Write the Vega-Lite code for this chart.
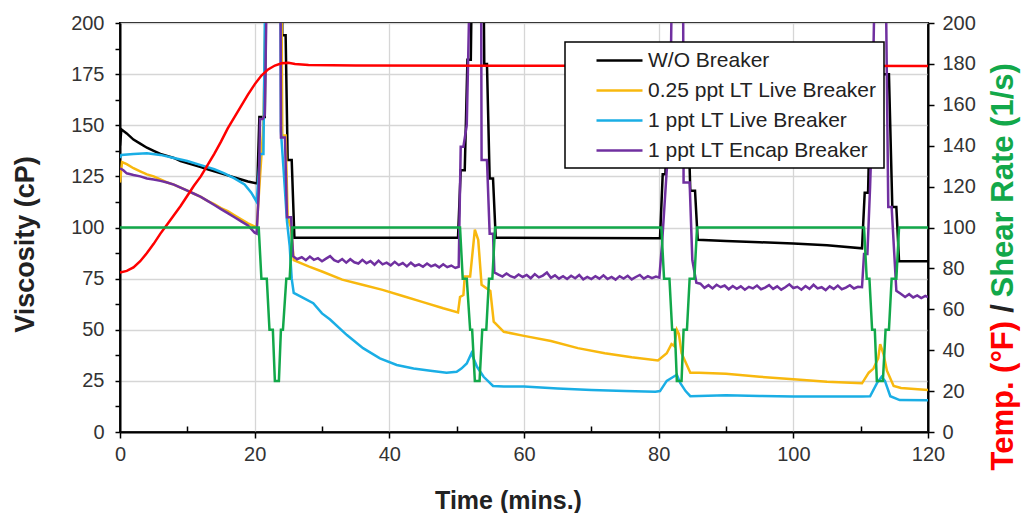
{
  "$schema": "https://vega.github.io/schema/vega-lite/v6.json",
  "width": 808,
  "height": 409,
  "autosize": "none",
  "padding": {"left": 120, "top": 23, "right": 99, "bottom": 81},
  "background": "white",
  "config": {
    "view": {"stroke": "black", "strokeWidth": 2},
    "font": "Liberation Sans",
    "axis": {"labelFont": "Liberation Sans", "titleFont": "Liberation Sans", "labelColor": "#333", "titleColor": "#222", "domainColor": "black", "domainWidth": 2, "tickColor": "black", "tickWidth": 1.5, "gridColor": "#d6d6d6", "gridWidth": 1.3, "labelFontSize": 20},
    "legend": {"strokeWidth": 1.5}
  },
  "datasets": {
    "visc": [
      {"t":0,"v":140,"s":"W/O Breaker"},{"t":0.2,"v":148,"s":"W/O Breaker"},{"t":1,"v":146,"s":"W/O Breaker"},{"t":2,"v":143,"s":"W/O Breaker"},{"t":3,"v":141,"s":"W/O Breaker"},{"t":4,"v":139,"s":"W/O Breaker"},{"t":5,"v":137.5,"s":"W/O Breaker"},{"t":6,"v":136,"s":"W/O Breaker"},{"t":7,"v":135,"s":"W/O Breaker"},{"t":8,"v":134,"s":"W/O Breaker"},{"t":9,"v":132.5,"s":"W/O Breaker"},{"t":10,"v":131.5,"s":"W/O Breaker"},{"t":11,"v":130.5,"s":"W/O Breaker"},{"t":12,"v":129.5,"s":"W/O Breaker"},{"t":13,"v":128.5,"s":"W/O Breaker"},{"t":14,"v":127.5,"s":"W/O Breaker"},{"t":15,"v":126.5,"s":"W/O Breaker"},{"t":16,"v":125.5,"s":"W/O Breaker"},{"t":17,"v":124.5,"s":"W/O Breaker"},{"t":18,"v":123.5,"s":"W/O Breaker"},{"t":19,"v":122.5,"s":"W/O Breaker"},{"t":20.4,"v":121.5,"s":"W/O Breaker"},{"t":20.7,"v":154,"s":"W/O Breaker"},{"t":21.5,"v":154,"s":"W/O Breaker"},{"t":21.8,"v":260,"s":"W/O Breaker"},{"t":24.0,"v":260,"s":"W/O Breaker"},{"t":24.1,"v":194,"s":"W/O Breaker"},{"t":24.6,"v":194,"s":"W/O Breaker"},{"t":24.9,"v":133,"s":"W/O Breaker"},{"t":25.5,"v":133,"s":"W/O Breaker"},{"t":25.9,"v":95,"s":"W/O Breaker"},{"t":50.2,"v":95,"s":"W/O Breaker"},{"t":50.6,"v":128,"s":"W/O Breaker"},{"t":51.2,"v":128,"s":"W/O Breaker"},{"t":51.6,"v":182,"s":"W/O Breaker"},{"t":52.1,"v":182,"s":"W/O Breaker"},{"t":52.4,"v":260,"s":"W/O Breaker"},{"t":53.9,"v":260,"s":"W/O Breaker"},{"t":54.1,"v":180,"s":"W/O Breaker"},{"t":54.5,"v":180,"s":"W/O Breaker"},{"t":54.9,"v":124,"s":"W/O Breaker"},{"t":55.4,"v":124,"s":"W/O Breaker"},{"t":55.8,"v":95,"s":"W/O Breaker"},{"t":80.2,"v":94.8,"s":"W/O Breaker"},{"t":80.6,"v":126,"s":"W/O Breaker"},{"t":81.0,"v":126,"s":"W/O Breaker"},{"t":81.4,"v":175,"s":"W/O Breaker"},{"t":84.2,"v":175,"s":"W/O Breaker"},{"t":84.7,"v":118,"s":"W/O Breaker"},{"t":85.4,"v":118,"s":"W/O Breaker"},{"t":85.8,"v":94,"s":"W/O Breaker"},{"t":90,"v":93.4,"s":"W/O Breaker"},{"t":95,"v":92.8,"s":"W/O Breaker"},{"t":100,"v":92.2,"s":"W/O Breaker"},{"t":105,"v":91.3,"s":"W/O Breaker"},{"t":110.2,"v":89.8,"s":"W/O Breaker"},{"t":110.6,"v":117,"s":"W/O Breaker"},{"t":111.1,"v":117,"s":"W/O Breaker"},{"t":111.5,"v":175,"s":"W/O Breaker"},{"t":114.2,"v":175,"s":"W/O Breaker"},{"t":114.7,"v":110,"s":"W/O Breaker"},{"t":115.3,"v":110,"s":"W/O Breaker"},{"t":115.7,"v":83.5,"s":"W/O Breaker"},{"t":120,"v":83.5,"s":"W/O Breaker"},

      {"t":0,"v":122,"s":"0.25 ppt LT Live Breaker"},{"t":0.3,"v":132,"s":"0.25 ppt LT Live Breaker"},{"t":1,"v":131,"s":"0.25 ppt LT Live Breaker"},{"t":2,"v":129,"s":"0.25 ppt LT Live Breaker"},{"t":3,"v":127.5,"s":"0.25 ppt LT Live Breaker"},{"t":4,"v":126,"s":"0.25 ppt LT Live Breaker"},{"t":5,"v":125,"s":"0.25 ppt LT Live Breaker"},{"t":6,"v":123.5,"s":"0.25 ppt LT Live Breaker"},{"t":7,"v":122,"s":"0.25 ppt LT Live Breaker"},{"t":8,"v":121,"s":"0.25 ppt LT Live Breaker"},{"t":9,"v":119.5,"s":"0.25 ppt LT Live Breaker"},{"t":10,"v":118,"s":"0.25 ppt LT Live Breaker"},{"t":11,"v":116.5,"s":"0.25 ppt LT Live Breaker"},{"t":12,"v":115,"s":"0.25 ppt LT Live Breaker"},{"t":13,"v":113,"s":"0.25 ppt LT Live Breaker"},{"t":14,"v":111.5,"s":"0.25 ppt LT Live Breaker"},{"t":15,"v":109.5,"s":"0.25 ppt LT Live Breaker"},{"t":16,"v":108,"s":"0.25 ppt LT Live Breaker"},{"t":17,"v":106,"s":"0.25 ppt LT Live Breaker"},{"t":18,"v":104,"s":"0.25 ppt LT Live Breaker"},{"t":19,"v":102,"s":"0.25 ppt LT Live Breaker"},{"t":20.3,"v":100,"s":"0.25 ppt LT Live Breaker"},{"t":20.7,"v":120,"s":"0.25 ppt LT Live Breaker"},{"t":21.3,"v":150,"s":"0.25 ppt LT Live Breaker"},{"t":21.9,"v":260,"s":"0.25 ppt LT Live Breaker"},{"t":23.9,"v":260,"s":"0.25 ppt LT Live Breaker"},{"t":24.1,"v":145,"s":"0.25 ppt LT Live Breaker"},{"t":24.6,"v":145,"s":"0.25 ppt LT Live Breaker"},{"t":24.9,"v":105,"s":"0.25 ppt LT Live Breaker"},{"t":25.4,"v":100,"s":"0.25 ppt LT Live Breaker"},{"t":25.8,"v":84,"s":"0.25 ppt LT Live Breaker"},{"t":28,"v":81,"s":"0.25 ppt LT Live Breaker"},{"t":30,"v":78.5,"s":"0.25 ppt LT Live Breaker"},{"t":33,"v":74.5,"s":"0.25 ppt LT Live Breaker"},{"t":36,"v":72,"s":"0.25 ppt LT Live Breaker"},{"t":39,"v":69.5,"s":"0.25 ppt LT Live Breaker"},{"t":42,"v":66.5,"s":"0.25 ppt LT Live Breaker"},{"t":45,"v":63.5,"s":"0.25 ppt LT Live Breaker"},{"t":48,"v":60.5,"s":"0.25 ppt LT Live Breaker"},{"t":50.2,"v":58.5,"s":"0.25 ppt LT Live Breaker"},{"t":50.5,"v":66,"s":"0.25 ppt LT Live Breaker"},{"t":51.0,"v":67,"s":"0.25 ppt LT Live Breaker"},{"t":51.2,"v":76,"s":"0.25 ppt LT Live Breaker"},{"t":52.0,"v":76,"s":"0.25 ppt LT Live Breaker"},{"t":52.7,"v":99,"s":"0.25 ppt LT Live Breaker"},{"t":53.2,"v":94,"s":"0.25 ppt LT Live Breaker"},{"t":53.7,"v":72,"s":"0.25 ppt LT Live Breaker"},{"t":55.0,"v":69,"s":"0.25 ppt LT Live Breaker"},{"t":55.5,"v":54,"s":"0.25 ppt LT Live Breaker"},{"t":57,"v":49,"s":"0.25 ppt LT Live Breaker"},{"t":60,"v":47,"s":"0.25 ppt LT Live Breaker"},{"t":64,"v":44.5,"s":"0.25 ppt LT Live Breaker"},{"t":68,"v":41,"s":"0.25 ppt LT Live Breaker"},{"t":72,"v":38.5,"s":"0.25 ppt LT Live Breaker"},{"t":76,"v":36.5,"s":"0.25 ppt LT Live Breaker"},{"t":79.9,"v":35,"s":"0.25 ppt LT Live Breaker"},{"t":81.2,"v":38.5,"s":"0.25 ppt LT Live Breaker"},{"t":81.9,"v":43,"s":"0.25 ppt LT Live Breaker"},{"t":82.3,"v":42,"s":"0.25 ppt LT Live Breaker"},{"t":82.7,"v":50,"s":"0.25 ppt LT Live Breaker"},{"t":83.0,"v":48,"s":"0.25 ppt LT Live Breaker"},{"t":83.4,"v":38.5,"s":"0.25 ppt LT Live Breaker"},{"t":84.7,"v":29,"s":"0.25 ppt LT Live Breaker"},{"t":86,"v":29,"s":"0.25 ppt LT Live Breaker"},{"t":90,"v":28.5,"s":"0.25 ppt LT Live Breaker"},{"t":95,"v":27,"s":"0.25 ppt LT Live Breaker"},{"t":100,"v":25.8,"s":"0.25 ppt LT Live Breaker"},{"t":105,"v":24.6,"s":"0.25 ppt LT Live Breaker"},{"t":110.2,"v":23.8,"s":"0.25 ppt LT Live Breaker"},{"t":111.2,"v":29,"s":"0.25 ppt LT Live Breaker"},{"t":111.9,"v":31,"s":"0.25 ppt LT Live Breaker"},{"t":112.6,"v":36,"s":"0.25 ppt LT Live Breaker"},{"t":112.9,"v":43,"s":"0.25 ppt LT Live Breaker"},{"t":113.4,"v":38,"s":"0.25 ppt LT Live Breaker"},{"t":113.9,"v":30,"s":"0.25 ppt LT Live Breaker"},{"t":114.9,"v":22.5,"s":"0.25 ppt LT Live Breaker"},{"t":116,"v":21.5,"s":"0.25 ppt LT Live Breaker"},{"t":120,"v":20.5,"s":"0.25 ppt LT Live Breaker"},

      {"t":0,"v":134,"s":"1 ppt LT Live Breaker"},{"t":0.2,"v":135.5,"s":"1 ppt LT Live Breaker"},{"t":2,"v":136,"s":"1 ppt LT Live Breaker"},{"t":4,"v":136.3,"s":"1 ppt LT Live Breaker"},{"t":6,"v":135.5,"s":"1 ppt LT Live Breaker"},{"t":8,"v":134,"s":"1 ppt LT Live Breaker"},{"t":10,"v":132.5,"s":"1 ppt LT Live Breaker"},{"t":12,"v":130.5,"s":"1 ppt LT Live Breaker"},{"t":14,"v":128.5,"s":"1 ppt LT Live Breaker"},{"t":15.5,"v":126.5,"s":"1 ppt LT Live Breaker"},{"t":17,"v":124,"s":"1 ppt LT Live Breaker"},{"t":18.5,"v":121,"s":"1 ppt LT Live Breaker"},{"t":19.5,"v":117,"s":"1 ppt LT Live Breaker"},{"t":20.3,"v":112.5,"s":"1 ppt LT Live Breaker"},{"t":20.8,"v":136,"s":"1 ppt LT Live Breaker"},{"t":21.3,"v":136,"s":"1 ppt LT Live Breaker"},{"t":21.7,"v":260,"s":"1 ppt LT Live Breaker"},{"t":23.8,"v":260,"s":"1 ppt LT Live Breaker"},{"t":23.9,"v":147,"s":"1 ppt LT Live Breaker"},{"t":24.3,"v":128,"s":"1 ppt LT Live Breaker"},{"t":24.8,"v":103,"s":"1 ppt LT Live Breaker"},{"t":25.2,"v":91,"s":"1 ppt LT Live Breaker"},{"t":25.5,"v":75,"s":"1 ppt LT Live Breaker"},{"t":25.8,"v":68,"s":"1 ppt LT Live Breaker"},{"t":27,"v":66,"s":"1 ppt LT Live Breaker"},{"t":28.7,"v":63,"s":"1 ppt LT Live Breaker"},{"t":30,"v":58,"s":"1 ppt LT Live Breaker"},{"t":31.2,"v":55,"s":"1 ppt LT Live Breaker"},{"t":33.7,"v":47.4,"s":"1 ppt LT Live Breaker"},{"t":36.1,"v":41,"s":"1 ppt LT Live Breaker"},{"t":38.6,"v":36,"s":"1 ppt LT Live Breaker"},{"t":41.1,"v":32.8,"s":"1 ppt LT Live Breaker"},{"t":43.6,"v":31.1,"s":"1 ppt LT Live Breaker"},{"t":46.1,"v":30,"s":"1 ppt LT Live Breaker"},{"t":48.5,"v":29,"s":"1 ppt LT Live Breaker"},{"t":50,"v":29.5,"s":"1 ppt LT Live Breaker"},{"t":50.7,"v":31,"s":"1 ppt LT Live Breaker"},{"t":51.5,"v":33.5,"s":"1 ppt LT Live Breaker"},{"t":52.2,"v":38.5,"s":"1 ppt LT Live Breaker"},{"t":53.0,"v":32,"s":"1 ppt LT Live Breaker"},{"t":54.0,"v":27,"s":"1 ppt LT Live Breaker"},{"t":55.4,"v":22.5,"s":"1 ppt LT Live Breaker"},{"t":57,"v":22.2,"s":"1 ppt LT Live Breaker"},{"t":60,"v":22.2,"s":"1 ppt LT Live Breaker"},{"t":65,"v":21.3,"s":"1 ppt LT Live Breaker"},{"t":70,"v":20.5,"s":"1 ppt LT Live Breaker"},{"t":75,"v":20,"s":"1 ppt LT Live Breaker"},{"t":79.5,"v":19.7,"s":"1 ppt LT Live Breaker"},{"t":80.2,"v":20,"s":"1 ppt LT Live Breaker"},{"t":81.2,"v":25,"s":"1 ppt LT Live Breaker"},{"t":82.2,"v":27,"s":"1 ppt LT Live Breaker"},{"t":82.7,"v":28,"s":"1 ppt LT Live Breaker"},{"t":83.2,"v":24,"s":"1 ppt LT Live Breaker"},{"t":84.0,"v":20,"s":"1 ppt LT Live Breaker"},{"t":84.7,"v":17.5,"s":"1 ppt LT Live Breaker"},{"t":90,"v":18,"s":"1 ppt LT Live Breaker"},{"t":95,"v":17.6,"s":"1 ppt LT Live Breaker"},{"t":100,"v":17.4,"s":"1 ppt LT Live Breaker"},{"t":105,"v":17.4,"s":"1 ppt LT Live Breaker"},{"t":110.2,"v":17.3,"s":"1 ppt LT Live Breaker"},{"t":111.4,"v":17.5,"s":"1 ppt LT Live Breaker"},{"t":112.4,"v":23.8,"s":"1 ppt LT Live Breaker"},{"t":113.1,"v":27,"s":"1 ppt LT Live Breaker"},{"t":113.6,"v":25,"s":"1 ppt LT Live Breaker"},{"t":114.4,"v":17.5,"s":"1 ppt LT Live Breaker"},{"t":115.8,"v":15.6,"s":"1 ppt LT Live Breaker"},{"t":120,"v":15.5,"s":"1 ppt LT Live Breaker"},

      {"t":0,"v":129,"s":"1 ppt LT Encap Breaker"},{"t":0.5,"v":128,"s":"1 ppt LT Encap Breaker"},{"t":1,"v":126.5,"s":"1 ppt LT Encap Breaker"},{"t":2,"v":125.7,"s":"1 ppt LT Encap Breaker"},{"t":3,"v":125,"s":"1 ppt LT Encap Breaker"},{"t":4,"v":124,"s":"1 ppt LT Encap Breaker"},{"t":5,"v":123.5,"s":"1 ppt LT Encap Breaker"},{"t":6,"v":122.8,"s":"1 ppt LT Encap Breaker"},{"t":7,"v":122,"s":"1 ppt LT Encap Breaker"},{"t":8,"v":121,"s":"1 ppt LT Encap Breaker"},{"t":9,"v":119.5,"s":"1 ppt LT Encap Breaker"},{"t":10,"v":118,"s":"1 ppt LT Encap Breaker"},{"t":11,"v":116.5,"s":"1 ppt LT Encap Breaker"},{"t":12,"v":115,"s":"1 ppt LT Encap Breaker"},{"t":13,"v":113,"s":"1 ppt LT Encap Breaker"},{"t":14,"v":111,"s":"1 ppt LT Encap Breaker"},{"t":15,"v":109,"s":"1 ppt LT Encap Breaker"},{"t":16,"v":107,"s":"1 ppt LT Encap Breaker"},{"t":17,"v":105,"s":"1 ppt LT Encap Breaker"},{"t":18,"v":103,"s":"1 ppt LT Encap Breaker"},{"t":19,"v":101,"s":"1 ppt LT Encap Breaker"},{"t":20,"v":97.5,"s":"1 ppt LT Encap Breaker"},{"t":20.3,"v":97,"s":"1 ppt LT Encap Breaker"},{"t":20.6,"v":117,"s":"1 ppt LT Encap Breaker"},{"t":20.8,"v":153,"s":"1 ppt LT Encap Breaker"},{"t":21.2,"v":153,"s":"1 ppt LT Encap Breaker"},{"t":21.5,"v":155,"s":"1 ppt LT Encap Breaker"},{"t":22.0,"v":260,"s":"1 ppt LT Encap Breaker"},{"t":23.8,"v":260,"s":"1 ppt LT Encap Breaker"},{"t":23.9,"v":144,"s":"1 ppt LT Encap Breaker"},{"t":24.5,"v":144,"s":"1 ppt LT Encap Breaker"},{"t":24.8,"v":105,"s":"1 ppt LT Encap Breaker"},{"t":25.4,"v":105,"s":"1 ppt LT Encap Breaker"},{"t":25.7,"v":86,"s":"1 ppt LT Encap Breaker"},
      {"t":26.3,"v":84.5,"s":"1 ppt LT Encap Breaker"},{"t":27,"v":85.5,"s":"1 ppt LT Encap Breaker"},{"t":27.6,"v":84,"s":"1 ppt LT Encap Breaker"},{"t":28.2,"v":85.8,"s":"1 ppt LT Encap Breaker"},{"t":28.8,"v":84.2,"s":"1 ppt LT Encap Breaker"},{"t":29.4,"v":85,"s":"1 ppt LT Encap Breaker"},{"t":30,"v":83.5,"s":"1 ppt LT Encap Breaker"},{"t":30.6,"v":84.8,"s":"1 ppt LT Encap Breaker"},{"t":31.2,"v":86,"s":"1 ppt LT Encap Breaker"},{"t":31.8,"v":84,"s":"1 ppt LT Encap Breaker"},{"t":32.4,"v":83.2,"s":"1 ppt LT Encap Breaker"},{"t":33,"v":84.6,"s":"1 ppt LT Encap Breaker"},{"t":33.6,"v":82.8,"s":"1 ppt LT Encap Breaker"},{"t":34.2,"v":84.5,"s":"1 ppt LT Encap Breaker"},{"t":34.8,"v":83,"s":"1 ppt LT Encap Breaker"},{"t":35.4,"v":82.4,"s":"1 ppt LT Encap Breaker"},{"t":36,"v":84.2,"s":"1 ppt LT Encap Breaker"},{"t":36.6,"v":82.5,"s":"1 ppt LT Encap Breaker"},{"t":37.2,"v":83.6,"s":"1 ppt LT Encap Breaker"},{"t":37.8,"v":81.8,"s":"1 ppt LT Encap Breaker"},{"t":38.4,"v":83.8,"s":"1 ppt LT Encap Breaker"},{"t":39,"v":82,"s":"1 ppt LT Encap Breaker"},{"t":39.6,"v":82.8,"s":"1 ppt LT Encap Breaker"},{"t":40.2,"v":81.5,"s":"1 ppt LT Encap Breaker"},{"t":40.8,"v":83.2,"s":"1 ppt LT Encap Breaker"},{"t":41.4,"v":81.6,"s":"1 ppt LT Encap Breaker"},{"t":42,"v":82.6,"s":"1 ppt LT Encap Breaker"},{"t":42.6,"v":81,"s":"1 ppt LT Encap Breaker"},{"t":43.2,"v":82.8,"s":"1 ppt LT Encap Breaker"},{"t":43.8,"v":81.2,"s":"1 ppt LT Encap Breaker"},{"t":44.4,"v":82,"s":"1 ppt LT Encap Breaker"},{"t":45,"v":80.8,"s":"1 ppt LT Encap Breaker"},{"t":45.6,"v":82.4,"s":"1 ppt LT Encap Breaker"},{"t":46.2,"v":81,"s":"1 ppt LT Encap Breaker"},{"t":46.8,"v":81.8,"s":"1 ppt LT Encap Breaker"},{"t":47.4,"v":80.5,"s":"1 ppt LT Encap Breaker"},{"t":48,"v":82,"s":"1 ppt LT Encap Breaker"},{"t":48.6,"v":80.6,"s":"1 ppt LT Encap Breaker"},{"t":49.2,"v":81.4,"s":"1 ppt LT Encap Breaker"},{"t":49.8,"v":80.2,"s":"1 ppt LT Encap Breaker"},{"t":50.3,"v":80.8,"s":"1 ppt LT Encap Breaker"},
      {"t":50.6,"v":139.5,"s":"1 ppt LT Encap Breaker"},{"t":51.0,"v":139.5,"s":"1 ppt LT Encap Breaker"},{"t":51.5,"v":150,"s":"1 ppt LT Encap Breaker"},{"t":52.2,"v":260,"s":"1 ppt LT Encap Breaker"},{"t":53.6,"v":260,"s":"1 ppt LT Encap Breaker"},{"t":53.7,"v":133,"s":"1 ppt LT Encap Breaker"},{"t":54.5,"v":133,"s":"1 ppt LT Encap Breaker"},{"t":54.9,"v":97,"s":"1 ppt LT Encap Breaker"},{"t":55.4,"v":97,"s":"1 ppt LT Encap Breaker"},{"t":55.6,"v":78,"s":"1 ppt LT Encap Breaker"},
      {"t":56.2,"v":77,"s":"1 ppt LT Encap Breaker"},{"t":56.8,"v":76,"s":"1 ppt LT Encap Breaker"},{"t":57.4,"v":77.5,"s":"1 ppt LT Encap Breaker"},{"t":58,"v":76.2,"s":"1 ppt LT Encap Breaker"},{"t":58.6,"v":75.5,"s":"1 ppt LT Encap Breaker"},{"t":59.2,"v":77,"s":"1 ppt LT Encap Breaker"},{"t":59.8,"v":75.8,"s":"1 ppt LT Encap Breaker"},{"t":60.4,"v":76.8,"s":"1 ppt LT Encap Breaker"},{"t":61,"v":75.2,"s":"1 ppt LT Encap Breaker"},{"t":61.6,"v":77.2,"s":"1 ppt LT Encap Breaker"},{"t":62.2,"v":75.6,"s":"1 ppt LT Encap Breaker"},{"t":62.8,"v":76.5,"s":"1 ppt LT Encap Breaker"},{"t":63.4,"v":78,"s":"1 ppt LT Encap Breaker"},{"t":64,"v":75.4,"s":"1 ppt LT Encap Breaker"},{"t":64.6,"v":76.6,"s":"1 ppt LT Encap Breaker"},{"t":65.2,"v":75,"s":"1 ppt LT Encap Breaker"},{"t":65.8,"v":76.2,"s":"1 ppt LT Encap Breaker"},{"t":66.4,"v":74.8,"s":"1 ppt LT Encap Breaker"},{"t":67,"v":76.4,"s":"1 ppt LT Encap Breaker"},{"t":67.6,"v":75.2,"s":"1 ppt LT Encap Breaker"},{"t":68.2,"v":76.8,"s":"1 ppt LT Encap Breaker"},{"t":68.8,"v":74.6,"s":"1 ppt LT Encap Breaker"},{"t":69.4,"v":75.8,"s":"1 ppt LT Encap Breaker"},{"t":70,"v":74.8,"s":"1 ppt LT Encap Breaker"},{"t":70.6,"v":76.2,"s":"1 ppt LT Encap Breaker"},{"t":71.2,"v":75,"s":"1 ppt LT Encap Breaker"},{"t":71.8,"v":76.6,"s":"1 ppt LT Encap Breaker"},{"t":72.4,"v":74.8,"s":"1 ppt LT Encap Breaker"},{"t":73,"v":75.8,"s":"1 ppt LT Encap Breaker"},{"t":73.6,"v":74.5,"s":"1 ppt LT Encap Breaker"},{"t":74.2,"v":76.2,"s":"1 ppt LT Encap Breaker"},{"t":74.8,"v":75,"s":"1 ppt LT Encap Breaker"},{"t":75.4,"v":76.4,"s":"1 ppt LT Encap Breaker"},{"t":76,"v":74.6,"s":"1 ppt LT Encap Breaker"},{"t":76.6,"v":75.8,"s":"1 ppt LT Encap Breaker"},{"t":77.2,"v":76.8,"s":"1 ppt LT Encap Breaker"},{"t":77.8,"v":75,"s":"1 ppt LT Encap Breaker"},{"t":78.4,"v":76.2,"s":"1 ppt LT Encap Breaker"},{"t":79,"v":75.2,"s":"1 ppt LT Encap Breaker"},{"t":79.6,"v":76,"s":"1 ppt LT Encap Breaker"},{"t":80.1,"v":75.5,"s":"1 ppt LT Encap Breaker"},
      {"t":80.5,"v":92,"s":"1 ppt LT Encap Breaker"},{"t":81.2,"v":128,"s":"1 ppt LT Encap Breaker"},{"t":81.7,"v":150,"s":"1 ppt LT Encap Breaker"},{"t":82.1,"v":260,"s":"1 ppt LT Encap Breaker"},{"t":83.6,"v":260,"s":"1 ppt LT Encap Breaker"},{"t":83.7,"v":122,"s":"1 ppt LT Encap Breaker"},{"t":84.6,"v":122,"s":"1 ppt LT Encap Breaker"},{"t":85.0,"v":84,"s":"1 ppt LT Encap Breaker"},{"t":85.6,"v":73,"s":"1 ppt LT Encap Breaker"},
      {"t":86.2,"v":72.5,"s":"1 ppt LT Encap Breaker"},{"t":86.8,"v":70.5,"s":"1 ppt LT Encap Breaker"},{"t":87.4,"v":71.8,"s":"1 ppt LT Encap Breaker"},{"t":88,"v":70.2,"s":"1 ppt LT Encap Breaker"},{"t":88.6,"v":72,"s":"1 ppt LT Encap Breaker"},{"t":89.2,"v":70.8,"s":"1 ppt LT Encap Breaker"},{"t":89.8,"v":71.6,"s":"1 ppt LT Encap Breaker"},{"t":90.4,"v":69.8,"s":"1 ppt LT Encap Breaker"},{"t":91,"v":71.4,"s":"1 ppt LT Encap Breaker"},{"t":91.6,"v":70,"s":"1 ppt LT Encap Breaker"},{"t":92.2,"v":71.2,"s":"1 ppt LT Encap Breaker"},{"t":92.8,"v":69.6,"s":"1 ppt LT Encap Breaker"},{"t":93.4,"v":71,"s":"1 ppt LT Encap Breaker"},{"t":94,"v":70.2,"s":"1 ppt LT Encap Breaker"},{"t":94.6,"v":71.6,"s":"1 ppt LT Encap Breaker"},{"t":95.2,"v":69.8,"s":"1 ppt LT Encap Breaker"},{"t":95.8,"v":70.6,"s":"1 ppt LT Encap Breaker"},{"t":96.4,"v":71.8,"s":"1 ppt LT Encap Breaker"},{"t":97,"v":70,"s":"1 ppt LT Encap Breaker"},{"t":97.6,"v":71.2,"s":"1 ppt LT Encap Breaker"},{"t":98.2,"v":69.6,"s":"1 ppt LT Encap Breaker"},{"t":98.8,"v":70.8,"s":"1 ppt LT Encap Breaker"},{"t":99.4,"v":72.2,"s":"1 ppt LT Encap Breaker"},{"t":100,"v":70.4,"s":"1 ppt LT Encap Breaker"},{"t":100.6,"v":71,"s":"1 ppt LT Encap Breaker"},{"t":101.2,"v":69.6,"s":"1 ppt LT Encap Breaker"},{"t":101.8,"v":71.4,"s":"1 ppt LT Encap Breaker"},{"t":102.4,"v":70,"s":"1 ppt LT Encap Breaker"},{"t":103,"v":72,"s":"1 ppt LT Encap Breaker"},{"t":103.6,"v":70.2,"s":"1 ppt LT Encap Breaker"},{"t":104.2,"v":70.8,"s":"1 ppt LT Encap Breaker"},{"t":104.8,"v":69.4,"s":"1 ppt LT Encap Breaker"},{"t":105.4,"v":71.2,"s":"1 ppt LT Encap Breaker"},{"t":106,"v":70,"s":"1 ppt LT Encap Breaker"},{"t":106.6,"v":71.6,"s":"1 ppt LT Encap Breaker"},{"t":107.2,"v":69.8,"s":"1 ppt LT Encap Breaker"},{"t":107.8,"v":70.6,"s":"1 ppt LT Encap Breaker"},{"t":108.4,"v":71.8,"s":"1 ppt LT Encap Breaker"},{"t":109,"v":70.2,"s":"1 ppt LT Encap Breaker"},{"t":109.6,"v":71,"s":"1 ppt LT Encap Breaker"},{"t":110.2,"v":70.8,"s":"1 ppt LT Encap Breaker"},
      {"t":110.5,"v":87,"s":"1 ppt LT Encap Breaker"},{"t":111.0,"v":87,"s":"1 ppt LT Encap Breaker"},{"t":111.4,"v":120,"s":"1 ppt LT Encap Breaker"},{"t":111.7,"v":150,"s":"1 ppt LT Encap Breaker"},{"t":112.3,"v":260,"s":"1 ppt LT Encap Breaker"},{"t":113.6,"v":260,"s":"1 ppt LT Encap Breaker"},{"t":114.1,"v":110,"s":"1 ppt LT Encap Breaker"},{"t":114.6,"v":110,"s":"1 ppt LT Encap Breaker"},{"t":115.3,"v":69,"s":"1 ppt LT Encap Breaker"},{"t":116,"v":67.5,"s":"1 ppt LT Encap Breaker"},{"t":116.6,"v":66,"s":"1 ppt LT Encap Breaker"},{"t":117.2,"v":67.4,"s":"1 ppt LT Encap Breaker"},{"t":117.8,"v":65.8,"s":"1 ppt LT Encap Breaker"},{"t":118.4,"v":66.8,"s":"1 ppt LT Encap Breaker"},{"t":119,"v":65.5,"s":"1 ppt LT Encap Breaker"},{"t":119.6,"v":66.6,"s":"1 ppt LT Encap Breaker"},{"t":120,"v":66,"s":"1 ppt LT Encap Breaker"}
    ],
    "temp": [
      {"t":0,"v":78},{"t":1,"v":78.8},{"t":2,"v":80.5},{"t":3,"v":83.5},{"t":4,"v":87.5},{"t":5,"v":92},{"t":6,"v":97},{"t":7,"v":101.5},{"t":8,"v":106},{"t":9,"v":110.5},{"t":10,"v":115.5},{"t":11,"v":120.5},{"t":12,"v":125},{"t":13,"v":130.5},{"t":14,"v":136},{"t":15,"v":142},{"t":16,"v":148.5},{"t":17,"v":154},{"t":18,"v":159.5},{"t":19,"v":165},{"t":20,"v":170},{"t":21,"v":174.3},{"t":22,"v":177.3},{"t":23,"v":179.2},{"t":24,"v":180.3},{"t":25,"v":180.5},{"t":26,"v":180},{"t":28,"v":179.5},{"t":35,"v":179.2},{"t":120,"v":179}
    ],
    "shear": [
      {"t":0,"v":100},{"t":20.6,"v":100},{"t":21.0,"v":75},{"t":21.8,"v":75},{"t":22.2,"v":50},{"t":22.7,"v":50},{"t":23.0,"v":25},{"t":23.6,"v":25},{"t":23.9,"v":50},{"t":24.2,"v":50},{"t":24.7,"v":75},{"t":25.2,"v":75},{"t":25.6,"v":100},
      {"t":50.5,"v":100},{"t":50.9,"v":75},{"t":51.5,"v":75},{"t":52.0,"v":50},{"t":52.3,"v":50},{"t":52.7,"v":25},{"t":53.4,"v":25},{"t":53.8,"v":50},{"t":54.4,"v":50},{"t":54.8,"v":75},{"t":55.3,"v":75},{"t":55.7,"v":100},
      {"t":80.4,"v":100},{"t":80.8,"v":75},{"t":81.6,"v":75},{"t":82.0,"v":50},{"t":82.4,"v":50},{"t":82.7,"v":25},{"t":83.4,"v":25},{"t":83.7,"v":50},{"t":84.2,"v":50},{"t":84.6,"v":75},{"t":85.3,"v":75},{"t":85.7,"v":100},
      {"t":110.5,"v":100},{"t":110.9,"v":75},{"t":111.3,"v":75},{"t":111.7,"v":50},{"t":112.1,"v":50},{"t":112.4,"v":25},{"t":113.3,"v":25},{"t":113.7,"v":50},{"t":114.2,"v":50},{"t":114.6,"v":75},{"t":115.3,"v":75},{"t":115.7,"v":100},{"t":120,"v":100}
    ]
  },
  "encoding": {
    "x": {
      "field": "t", "type": "quantitative",
      "scale": {"domain": [0, 120], "nice": false},
      "axis": {
        "values": [0,10,20,30,40,50,60,70,80,90,100,110,120],
        "labelExpr": "datum.value % 20 === 0 ? datum.label : ''",
        "labelFlush": false,
        "gridOpacity": {"condition": {"test": "datum.value % 20 === 0", "value": 1}, "value": 0},
        "tickSize": {"condition": {"test": "datum.value % 20 === 0", "value": 6}, "value": -6},
        "labelPadding": 6,
        "title": "Time (mins.)", "titleFontSize": 25, "titleFontWeight": "bold",
        "titleX": 388, "titleY": 76, "titleAlign": "center", "titleBaseline": "alphabetic"
      }
    }
  },
  "layer": [
    {
      "data": {"name": "visc"},
      "mark": {"type": "line", "strokeWidth": 2.5, "clip": true},
      "encoding": {
        "y": {
          "field": "v", "type": "quantitative",
          "scale": {"domain": [0, 200], "nice": false},
          "axis": {
            "values": [0,12.5,25,37.5,50,62.5,75,87.5,100,112.5,125,137.5,150,162.5,175,187.5,200],
            "labelExpr": "datum.value % 25 === 0 ? datum.label : ''",
            "gridOpacity": {"condition": {"test": "datum.value % 25 === 0", "value": 1}, "value": 0},
            "tickSize": 5, "labelPadding": 11,
            "title": "Viscosity (cP)", "titleFontSize": 27, "titleFontWeight": "bold",
            "titleAngle": 270, "titleX": -87, "titleY": 221, "titleAlign": "center", "titleBaseline": "alphabetic"
          }
        },
        "color": {
          "field": "s", "type": "nominal",
          "scale": {
            "domain": ["W/O Breaker", "0.25 ppt LT Live Breaker", "1 ppt LT Live Breaker", "1 ppt LT Encap Breaker"],
            "range": ["#000000", "#F8B80E", "#1AAEE5", "#7030A0"]
          },
          "legend": {
            "orient": "none", "legendX": 445, "legendY": 19, "title": null,
            "strokeColor": "black", "fillColor": "white", "padding": 7,
            "symbolType": "M-2.3,0H2.3", "symbolSize": 400, "symbolStrokeWidth": 2.5, "symbolOffset": 36,
            "labelFontSize": 21, "labelFont": "Liberation Sans", "labelColor": "#222", "labelOffset": 17,
            "rowPadding": 8, "labelLimit": 500,
            "labelExpr": "datum.label + '\u00a0\u00a0\u00a0\u00a0'"
          }
        }
      }
    },
    {
      "data": {"name": "temp"},
      "mark": {"type": "line", "strokeWidth": 2.5, "color": "#FF0000", "clip": true},
      "encoding": {
        "y": {
          "field": "v", "type": "quantitative",
          "scale": {"domain": [0, 200], "nice": false},
          "axis": {
            "orient": "right", "values": [0,20,40,60,80,100,120,140,160,180,200], "grid": false,
            "tickSize": 6, "labelPadding": 8,
            "title": "Temp. (°F)", "titleColor": "#FF0000", "titleFontSize": 31, "titleFontWeight": "bold",
            "titleAngle": 270, "titleX": 84, "titleY": 447, "titleAlign": "left", "titleBaseline": "alphabetic"
          }
        }
      }
    },
    {
      "data": {"name": "shear"},
      "mark": {"type": "line", "strokeWidth": 2.5, "color": "#12A84A", "clip": true},
      "encoding": {
        "y": {
          "field": "v", "type": "quantitative",
          "scale": {"domain": [0, 200], "nice": false},
          "axis": {
            "orient": "right", "labels": false, "ticks": false, "domain": false, "grid": false,
            "title": "Shear Rate (1/s)", "titleColor": "#12A84A", "titleFontSize": 31, "titleFontWeight": "bold",
            "titleAngle": 270, "titleX": 84, "titleY": 274, "titleAlign": "left", "titleBaseline": "alphabetic"
          }
        }
      }
    },
    {
      "data": {"name": "shear"},
      "mark": {"type": "line", "opacity": 0},
      "encoding": {
        "y": {
          "field": "v", "type": "quantitative",
          "scale": {"domain": [0, 200], "nice": false},
          "axis": {
            "orient": "right", "labels": false, "ticks": false, "domain": false, "grid": false,
            "title": "/", "titleColor": "#222", "titleFontSize": 31, "titleFontWeight": "bold",
            "titleAngle": 270, "titleX": 84, "titleY": 285, "titleAlign": "center", "titleBaseline": "alphabetic"
          }
        }
      }
    }
  ],
  "resolve": {"scale": {"y": "independent"}}
}
